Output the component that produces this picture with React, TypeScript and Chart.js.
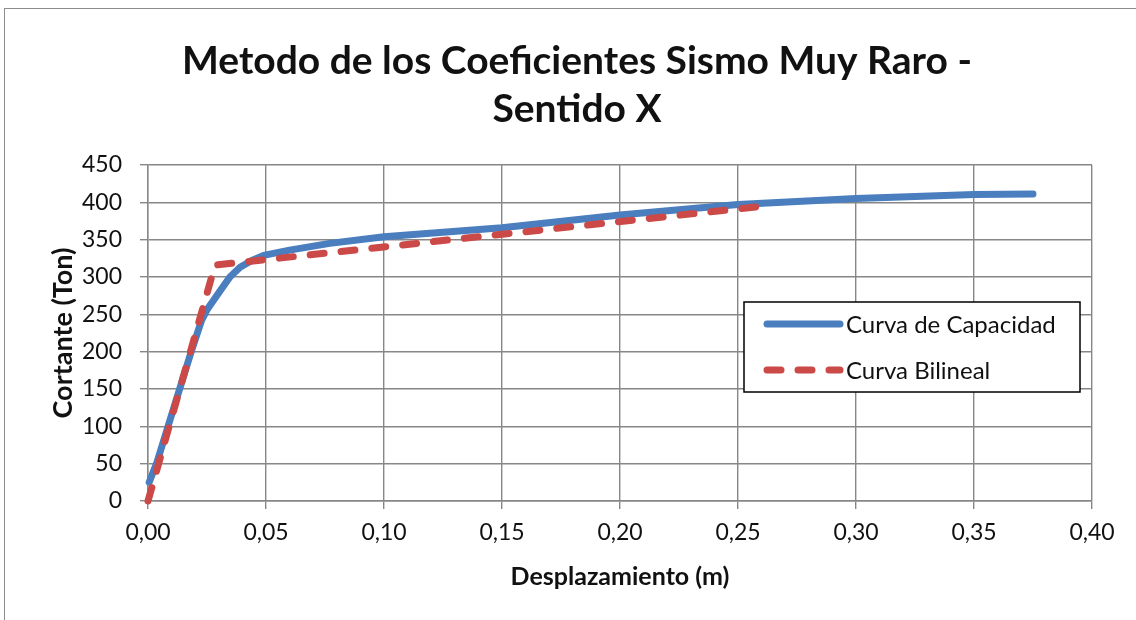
import { useEffect, useRef } from "react";
import { Chart, registerables } from "chart.js";

Chart.register(...registerables);

const titleLines = ["Metodo de los Coeficientes Sismo Muy Raro -", "Sentido X"];
const xAxisTitle = "Desplazamiento (m)";
const yAxisTitle = "Cortante (Ton)";
const seriesNames = ["Curva de Capacidad", "Curva Bilineal"];

const capacidadX = [0.0005, 0.0038, 0.0085, 0.0136, 0.0184, 0.0227, 0.025, 0.03, 0.0347, 0.039, 0.044, 0.049, 0.06, 0.077, 0.1, 0.15, 0.2, 0.25, 0.3, 0.35, 0.375];
const capacidadY = [25, 52, 100, 152, 201, 242, 256, 279, 300, 313, 322, 329, 336, 345, 354, 366, 383, 397, 405, 410.5, 411];

const bilinealX = [0, 0.0284, 0.264];
const bilinealY = [0, 316, 396];

const BLUE = "#4A7EBF";
const RED = "#CB4A48";
const GRID = "#878787";
const TEXT = "#111111";
const FONT = "Lato, 'Open Sans', sans-serif";

const titlePlugin = {
  id: "customTitle",
  afterDraw(chart: any) {
    const ctx = chart.ctx;
    ctx.save();
    ctx.font = `bold 39px ${FONT}`;
    ctx.fillStyle = TEXT;
    ctx.textAlign = "center";
    ctx.textBaseline = "middle";
    titleLines.forEach((t, i) => ctx.fillText(t, 577, 61 + i * 48));
    ctx.restore();
  },
};

const legendPlugin = {
  id: "customLegend",
  afterDraw(chart: any) {
    const ctx = chart.ctx;
    const left = 744, top = 302, w = 336, h = 90;
    ctx.save();
    ctx.fillStyle = "#ffffff";
    ctx.fillRect(left, top, w, h);
    ctx.strokeStyle = "#000000";
    ctx.lineWidth = 1.5;
    ctx.strokeRect(left, top, w, h);
    const rows = [
      { y: top + 22, color: BLUE, dash: [] as number[] },
      { y: top + 68, color: RED, dash: [14, 17] },
    ];
    rows.forEach((r, i) => {
      ctx.beginPath();
      ctx.strokeStyle = r.color;
      ctx.lineWidth = 7;
      ctx.lineCap = "round";
      ctx.setLineDash(r.dash);
      ctx.moveTo(767, r.y);
      ctx.lineTo(840, r.y);
      ctx.stroke();
      ctx.setLineDash([]);
      ctx.font = `24px ${FONT}`;
      ctx.fillStyle = TEXT;
      ctx.textAlign = "left";
      ctx.textBaseline = "middle";
      ctx.fillText(seriesNames[i], 846, r.y + 1);
    });
    ctx.restore();
  },
};

export default function App() {
  const ref = useRef<HTMLCanvasElement | null>(null);

  useEffect(() => {
    if (!ref.current) return;
    Chart.defaults.font.family = FONT;
    const chart = new Chart(ref.current, {
      type: "line",
      data: {
        datasets: [
          {
            label: seriesNames[0],
            data: capacidadX.map((x, i) => ({ x, y: capacidadY[i] })),
            borderColor: BLUE,
            backgroundColor: BLUE,
            borderWidth: 7,
            pointRadius: 0,
            borderCapStyle: "round",
            borderJoinStyle: "round",
            tension: 0,
            order: 2,
            clip: 8,
          },
          {
            label: seriesNames[1],
            data: bilinealX.map((x, i) => ({ x, y: bilinealY[i] })),
            borderColor: RED,
            backgroundColor: RED,
            borderWidth: 7,
            borderDash: [14, 17],
            borderCapStyle: "round",
            borderJoinStyle: "round",
            pointRadius: 0,
            tension: 0,
            order: 1,
            clip: 8,
          },
        ],
      },
      options: {
        responsive: false,
        animation: false,
        layout: { padding: { top: 165, right: 44, bottom: 0, left: 0 } },
        plugins: {
          legend: { display: false },
          title: { display: false },
          tooltip: { enabled: false },
        },
        scales: {
          x: {
            type: "linear",
            min: 0,
            max: 0.4,
            ticks: {
              stepSize: 0.05,
              callback: (v: any) => Number(v).toFixed(2).replace(".", ","),
              font: { size: 23 },
              color: TEXT,
              padding: 10,
              maxRotation: 0,
              autoSkip: false,
            },
            grid: { color: GRID, lineWidth: 1.4, tickLength: 8 },
            border: { color: GRID, width: 1.4 },
            title: {
              display: true,
              text: xAxisTitle,
              font: { size: 25, weight: "bold" },
              color: TEXT,
              padding: { top: 0, bottom: 28 },
            },
            afterFit: (s: any) => {
              s.height = 119;
            },
          },
          y: {
            type: "linear",
            min: 0,
            max: 450,
            ticks: {
              stepSize: 50,
              font: { size: 23 },
              color: TEXT,
              padding: 18,
            },
            grid: { color: GRID, lineWidth: 1.4, tickLength: 8 },
            border: { color: GRID, width: 1.4 },
            title: {
              display: true,
              text: yAxisTitle,
              font: { size: 27, weight: "bold" },
              color: TEXT,
              padding: { top: 47, bottom: 0 },
            },
            afterFit: (s: any) => {
              s.width = 148;
            },
          },
        },
      },
      plugins: [titlePlugin, legendPlugin],
    } as any);
    return () => chart.destroy();
  }, []);

  return (
    <div style={{ position: "absolute", left: 0, top: 0, width: 1136, height: 620, background: "#fff" }}>
      <div
        style={{
          position: "absolute",
          left: 4,
          top: 8,
          width: 1132,
          height: 612,
          boxSizing: "border-box",
          borderTop: "1.5px solid #8c8c8c",
          borderLeft: "1.5px solid #8c8c8c",
        }}
      />
      <canvas
        ref={ref}
        width={1136}
        height={620}
        style={{ position: "absolute", left: 0, top: 0, display: "block" }}
      />
    </div>
  );
}
